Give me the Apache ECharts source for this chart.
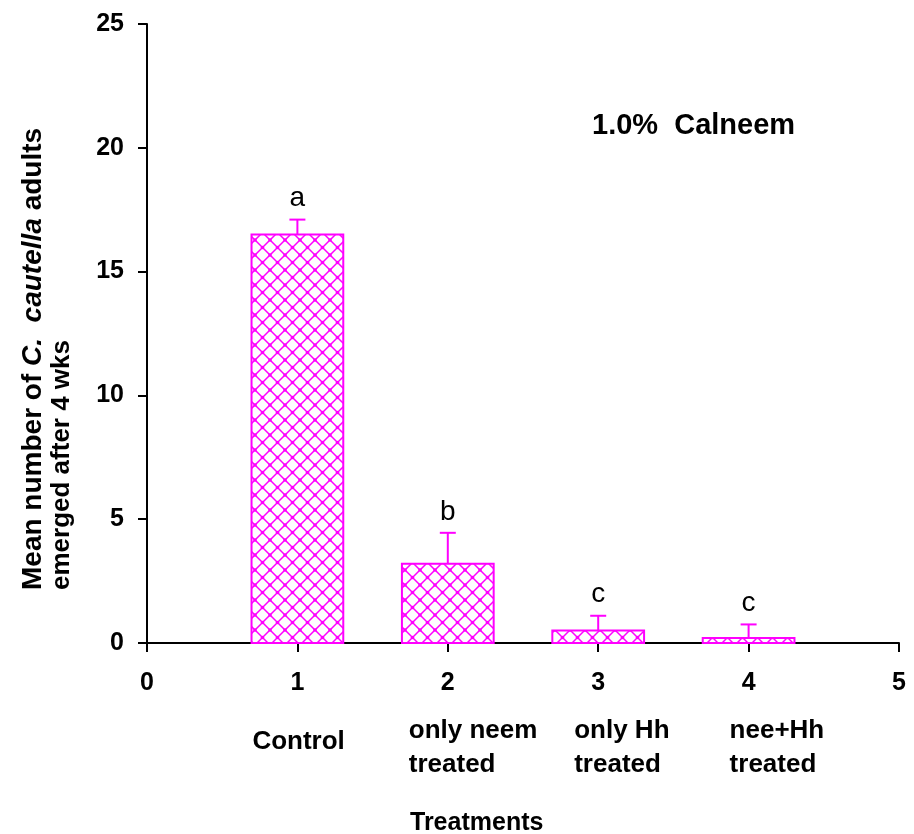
<!DOCTYPE html>
<html>
<head>
<meta charset="utf-8">
<title>1.0% Calneem</title>
<script src="https://cdn.jsdelivr.net/npm/echarts@6/dist/echarts.min.js"></script>
<style>
  html, body { margin: 0; padding: 0; background: #fff; }
  #chart { width: 914px; height: 834px; }
</style>
</head>
<body>
<div id="chart"></div>
<script>
// Treatment positions on the x scale and their names
const treatments = [1, 2, 3, 4];
const treatmentNames = ['Control', 'only neem\ntreated', 'only Hh\ntreated', 'nee+Hh\ntreated'];
// Mean adults emerged and the upper error (SE)
const means = [16.5, 3.2, 0.5, 0.2];
const errors = [0.6, 1.25, 0.6, 0.55];
// Significance letters
const letters = ['a', 'b', 'c', 'c'];
// Axis ticks
const xTicks = [0, 1, 2, 3, 4, 5];
const yTicks = [0, 5, 10, 15, 20, 25];

const MAGENTA = '#ff00ff';
const SANS = '"Liberation Sans", Arial, Helvetica, sans-serif';

// Diagonal cross-hatch tile for the bar fill
function hatchTile() {
  const s = 15;
  const c = document.createElement('canvas');
  c.width = s; c.height = s;
  const g = c.getContext('2d');
  g.fillStyle = '#fff';
  g.fillRect(0, 0, s, s);
  g.strokeStyle = MAGENTA;
  g.lineWidth = 1.5;
  g.beginPath();
  g.moveTo(-1, -1); g.lineTo(s + 1, s + 1);
  g.moveTo(s + 1, -1); g.lineTo(-1, s + 1);
  g.stroke();
  g.fillStyle = MAGENTA;
  [[0, 0], [s, 0], [0, s], [s, s], [s / 2, s / 2]].forEach(p => {
    g.beginPath(); g.arc(p[0], p[1], 1.8, 0, Math.PI * 2); g.fill();
  });
  return c;
}
const hatch = { image: hatchTile(), repeat: 'repeat' };

const barData = treatments.map((x, i) => [x, means[i], errors[i], letters[i]]);
const nameData = treatments.map((x, i) => [x, treatmentNames[i]]);
// left edge of each name block relative to its tick
const nameShift = [-45, -39, -24, -19];

const chart = echarts.init(document.getElementById('chart'), null, { renderer: 'canvas' });

chart.setOption({
  animation: false,
  backgroundColor: '#fff',
  title: [
    {
      text: '1.0%  Calneem',
      left: 587, top: 106,
      textStyle: { fontFamily: SANS, fontSize: 29, fontWeight: 'bold', color: '#000' }
    },
    {
      text: 'Treatments',
      left: 405, top: 806,
      textStyle: { fontFamily: SANS, fontSize: 25, fontWeight: 'bold', color: '#000' }
    }
  ],
  // y-axis title, two lines reading bottom to top, starting from the same baseline point
  graphic: [
    {
      type: 'text',
      x: 33, y: 590,
      rotation: Math.PI / 2,
      style: {
        text: '{b|Mean number of }{i|C.  cautella}{b| adults}',
        align: 'left', verticalAlign: 'middle',
        rich: {
          b: { fontFamily: SANS, fontSize: 28, fontWeight: 'bold', fill: '#000' },
          i: { fontFamily: SANS, fontSize: 28, fontWeight: 'bold', fontStyle: 'italic', fill: '#000' }
        }
      }
    },
    {
      type: 'text',
      x: 62, y: 590,
      rotation: Math.PI / 2,
      style: {
        text: 'emerged after 4 wks',
        align: 'left', verticalAlign: 'middle',
        fontFamily: SANS, fontSize: 26, fontWeight: 'bold', fill: '#000'
      }
    }
  ],
  grid: { left: 147, right: 15, top: 24, bottom: 191, containLabel: false, outerBoundsMode: 'none' },
  xAxis: {
    type: 'value',
    min: xTicks[0], max: xTicks[xTicks.length - 1], interval: 1,
    axisLine: { lineStyle: { color: '#000', width: 2 } },
    axisTick: { show: true, length: 9, lineStyle: { color: '#000', width: 2 } },
    axisLabel: {
      margin: 28, color: '#000', fontFamily: SANS, fontSize: 25, fontWeight: 'bold',
      formatter: v => xTicks.indexOf(v) >= 0 ? String(v) : ''
    },
    splitLine: { show: false }
  },
  yAxis: {
    type: 'value',
    min: yTicks[0], max: yTicks[yTicks.length - 1], interval: 5,
    axisLine: { show: true, onZero: false, lineStyle: { color: '#000', width: 2 } },
    axisTick: { show: true, length: 9, lineStyle: { color: '#000', width: 2 } },
    axisLabel: {
      margin: 23, color: '#000', fontFamily: SANS, fontSize: 25, fontWeight: 'bold',
      formatter: v => yTicks.indexOf(v) >= 0 ? String(v) : ''
    },
    splitLine: { show: false }
  },
  series: [
    {
      // hatched bars with error whisker and significance letter
      type: 'custom',
      data: barData,
      encode: { x: 0, y: 1 },
      renderItem: function (params, api) {
        const x = api.value(0), m = api.value(1), e = api.value(2);
        const base = api.coord([x, 0]);
        const top = api.coord([x, m]);
        const errTop = api.coord([x, m + e]);
        const w = api.size([0.61, 0])[0];
        const cap = 8;
        return {
          type: 'group',
          children: [
            {
              type: 'rect',
              shape: { x: base[0] - w / 2, y: top[1], width: w, height: base[1] - top[1] },
              style: { fill: hatch, stroke: MAGENTA, lineWidth: 2 }
            },
            {
              type: 'line',
              shape: { x1: top[0], y1: top[1], x2: errTop[0], y2: errTop[1] },
              style: { stroke: MAGENTA, lineWidth: 2 }
            },
            {
              type: 'line',
              shape: { x1: errTop[0] - cap, y1: errTop[1], x2: errTop[0] + cap, y2: errTop[1] },
              style: { stroke: MAGENTA, lineWidth: 2 }
            },
            {
              type: 'text',
              style: {
                x: errTop[0], y: errTop[1] - 7,
                text: api.value(3),
                align: 'center', verticalAlign: 'bottom',
                fontFamily: SANS, fontSize: 28, fill: '#000'
              }
            }
          ]
        };
      },
      z: 3
    },
    {
      // treatment names under the numeric ticks
      type: 'custom',
      data: nameData,
      encode: { x: 0 },
      clip: false,
      silent: true,
      renderItem: function (params, api) {
        const x = api.value(0);
        const pt = api.coord([x, 0]);
        const txt = treatmentNames[params.dataIndex];
        const multi = txt.indexOf('\n') >= 0;
        return {
          type: 'text',
          style: {
            x: pt[0] + nameShift[params.dataIndex],
            y: pt[1] + (multi ? 105 : 99),
            text: txt,
            align: 'left', verticalAlign: 'middle',
            fontFamily: SANS, fontSize: 26, fontWeight: 'bold', lineHeight: 34,
            fill: '#000'
          }
        };
      }
    }
  ]
});
</script>
</body>
</html>
